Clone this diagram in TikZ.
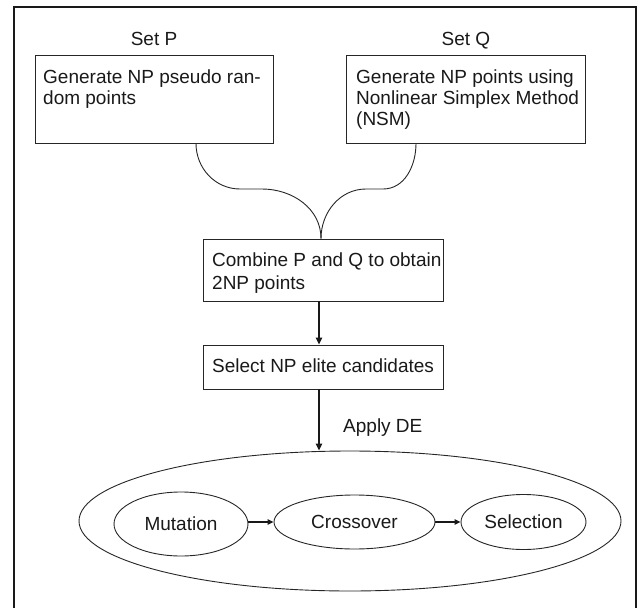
\documentclass[tikz,border=0pt]{standalone}
\usepackage{fontspec}
\setmainfont{Liberation Sans}
\usetikzlibrary{arrows.meta,shapes.geometric}
\begin{document}
\begin{tikzpicture}[x=1pt,y=-1pt,
  txt/.style={font=\fontsize{19}{21}\selectfont, text=black!90, inner sep=0pt},
  box/.style={draw=black!85, line width=0.9pt, rectangle, inner sep=0pt},
  oval/.style={draw=black!85, line width=0.9pt, ellipse, inner sep=0pt, font=\fontsize{19}{21}\selectfont, text=black!90},
  link/.style={draw=black!85, line width=0.9pt},
  bigarr/.style={draw=black!90, line width=1.3pt, -{Stealth[length=7pt,width=6.5pt,inset=0pt]}},
  smallarr/.style={draw=black!90, line width=1.1pt, -{Stealth[length=6pt,width=5.5pt,inset=0pt]}}
]
\useasboundingbox (0,0) rectangle (643,608);
% frame
\draw[line width=2.2pt, black!90] (14,608) -- (14,7) -- (636,7) -- (636,608);

% labels
\node[txt, anchor=base] (setp) at (154,45) {Set P};
\node[txt, anchor=base] (setq) at (466,45) {Set Q};

% boxes
\node[box, minimum width=238pt, minimum height=88pt] (pbox) at (154,99) {};
\node[box, minimum width=239pt, minimum height=88pt] (qbox) at (465.5,99) {};
\node[box, minimum width=240pt, minimum height=62pt] (comb) at (323,270) {};
\node[box, minimum width=240pt, minimum height=44pt] (sel) at (323,367) {};

% box texts
\node[txt, anchor=north west, align=left] (ptext) at (43,69.4) {Generate NP pseudo ran-\\dom points};
\node[txt, anchor=north west, align=left] (qtext) at (356,69.4) {Generate NP points using\\Nonlinear Simplex Method\\(NSM)};
\node[txt, anchor=north west, align=left, font=\fontsize{19}{23}\selectfont] (ctext) at (212,252.4) {Combine P and Q to obtain\\2NP points};
\node[txt, anchor=base west] (stext) at (212,372) {Select NP elite candidates};
\node[txt, anchor=base west] (apply) at (343,432) {Apply DE};

% ellipses
\node[oval, minimum width=542pt, minimum height=140pt] (outer) at (350,521) {};
\node[oval, minimum width=134pt, minimum height=64pt] (mut) at (181,524) {Mutation};
\node[oval, minimum width=161pt, minimum height=54pt] (cross) at (354.5,522) {Crossover};
\node[oval, minimum width=125pt, minimum height=55pt] (selc) at (523.5,522) {Selection};

% merging curves
\draw[link] ([xshift=42pt]pbox.south) to[out=-90,in=180] (240,189) -- (262,189) to[out=0,in=90] ([xshift=-2pt]comb.north);
\draw[link] ([xshift=-49.5pt]qbox.south) to[out=-90,in=0] (383,189) -- (366,189) to[out=180,in=90] ([xshift=-2pt]comb.north);

% vertical arrows
\draw[bigarr] ([xshift=-4pt]comb.south) -- ([xshift=-4pt]sel.north);
\draw[bigarr] ([xshift=-4pt]sel.south) -- ([xshift=-4pt]sel.south |- outer.north);

% horizontal arrows
\draw[smallarr] (mut.east |- cross.west) -- (cross.west);
\draw[smallarr] (cross.east) -- (selc.west);
\end{tikzpicture}
\end{document}
